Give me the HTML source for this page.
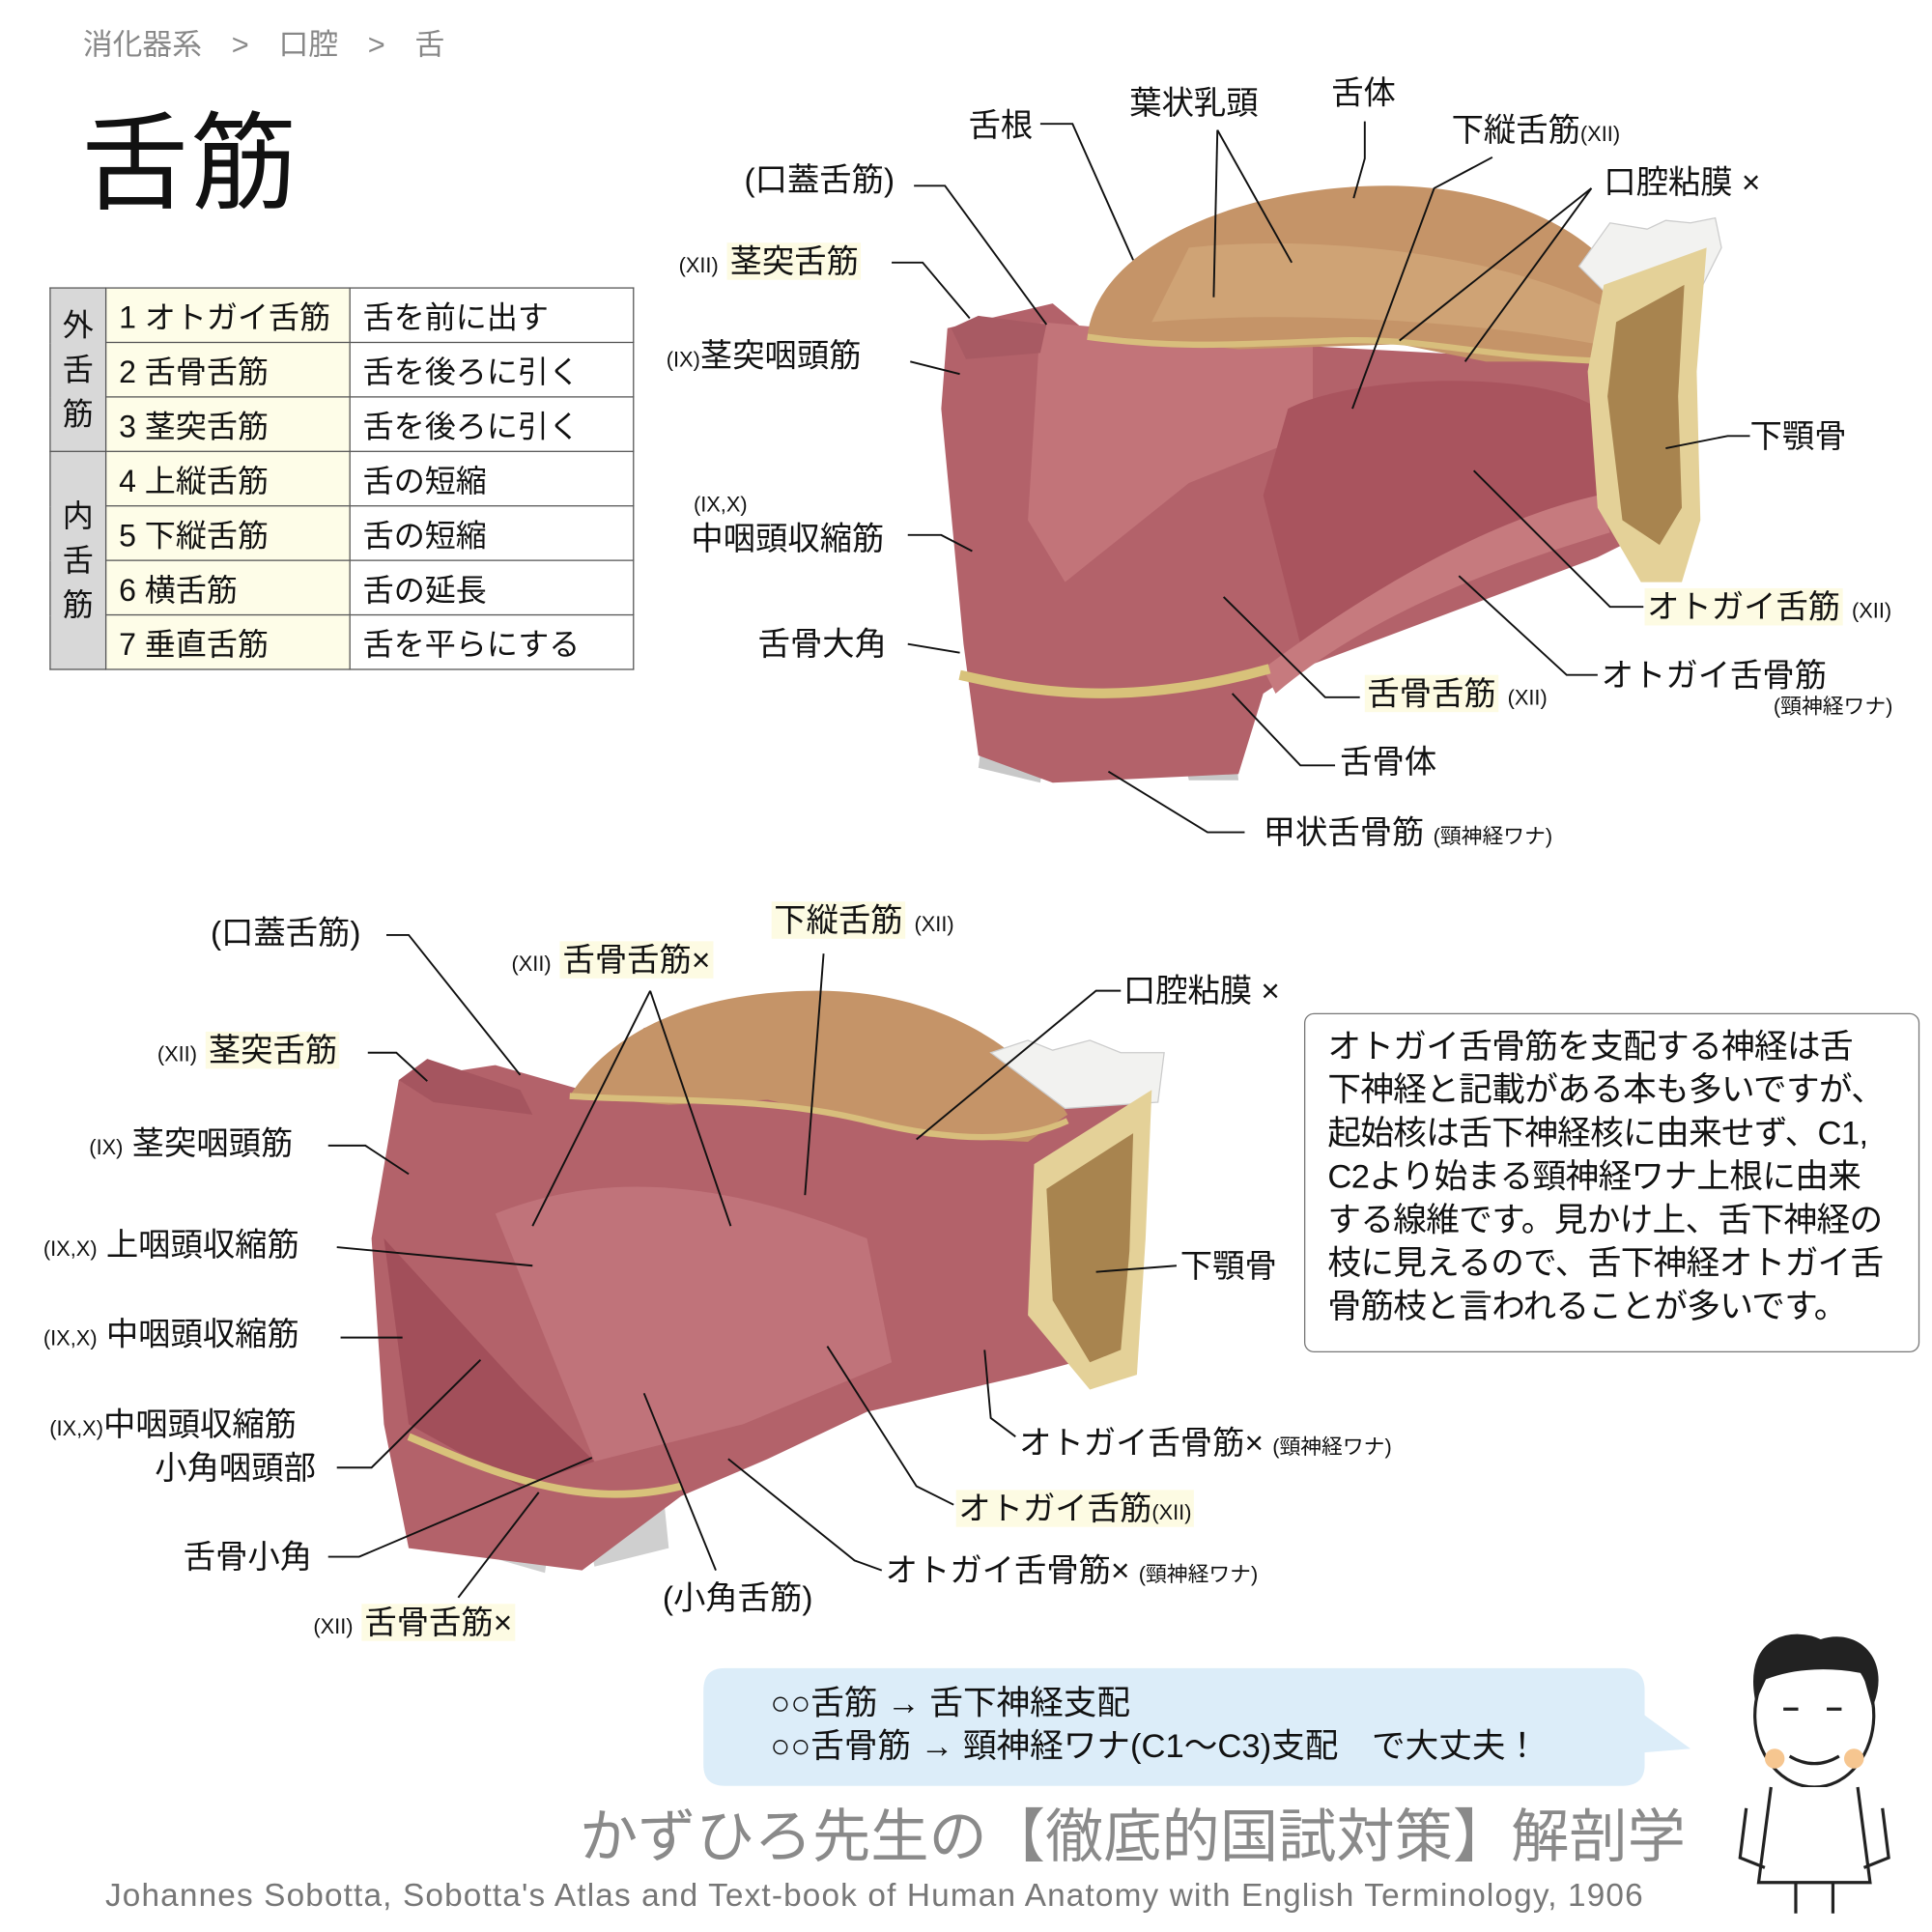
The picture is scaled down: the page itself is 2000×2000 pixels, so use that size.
<!DOCTYPE html>
<html><head><meta charset="utf-8">
<style>
html,body{margin:0;padding:0;background:#fff;width:2000px;height:2000px;overflow:hidden}
#w{position:absolute;left:0;top:0;width:1560px;height:1560px;transform:scale(1.28205);transform-origin:0 0;font-family:"Liberation Sans","Noto Sans CJK JP",sans-serif;color:#111}
.t{position:absolute;white-space:nowrap;font-size:26px;line-height:30px}
.s{font-size:17px}
.hl{background:#fdfbe3;padding:0 2px}
table{position:absolute;left:40px;top:232px;border-collapse:collapse;font-size:25px}
td{border:1.5px solid #555;height:43px;padding:0 0 0 10px;white-space:nowrap}
td.g{background:#d8d8d8;width:44px;padding:0;text-align:center;line-height:36px}
td.y{background:#fefde8;width:186px}
td.w{width:218px}
</style></head><body><div id="w">
<div class="t" style="left:67px;top:22px;font-size:24px;color:#888">消化器系　&gt;　口腔　&gt;　舌</div>
<div class="t" style="left:66px;top:88px;font-size:86px;line-height:90px;letter-spacing:2px">舌筋</div>
<table>
<tr><td class="g" rowspan="3">外<br>舌<br>筋</td><td class="y">1 オトガイ舌筋</td><td class="w">舌を前に出す</td></tr>
<tr><td class="y">2 舌骨舌筋</td><td class="w">舌を後ろに引く</td></tr>
<tr><td class="y">3 茎突舌筋</td><td class="w">舌を後ろに引く</td></tr>
<tr><td class="g" rowspan="4">内<br>舌<br>筋</td><td class="y">4 上縦舌筋</td><td class="w">舌の短縮</td></tr>
<tr><td class="y">5 下縦舌筋</td><td class="w">舌の短縮</td></tr>
<tr><td class="y">6 横舌筋</td><td class="w">舌の延長</td></tr>
<tr><td class="y">7 垂直舌筋</td><td class="w">舌を平らにする</td></tr>
</table>

<svg width="1560" height="1560" style="position:absolute;left:0;top:0">
<g>
<path d="M800,540 L790,620 L840,632 L845,600 Z M950,590 L960,630 L1000,630 L995,580 Z" fill="#c8c8c8"/>
<path d="M765,265 L850,245 L880,270 L1290,292 L1330,300 L1350,420 L1290,450 L1050,540 L1020,560 L1000,625 L850,632 L790,610 L778,520 L760,330 Z" fill="#b3626a"/>
<path d="M840,260 L1060,280 L1060,350 L960,390 L860,470 L830,420 Z" fill="#c27479"/>
<path d="M1040,330 C1100,300 1250,300 1290,330 L1300,420 L1200,460 L1050,520 L1020,400 Z" fill="#a9545e"/>
<path d="M1020,540 C1100,480 1200,420 1290,400 L1300,430 C1200,460 1100,500 1030,560 Z" fill="#c67a7e"/>
<path d="M768,265 L790,255 L845,262 L840,285 L780,290 Z" fill="#a85a63"/>
<path d="M878,272 C885,200 1000,150 1120,150 C1210,150 1290,185 1312,235 L1310,292 L1200,292 L1130,278 L1000,282 L900,272 Z" fill="#c59468"/>
<path d="M960,200 C1050,190 1200,200 1300,250 L1300,280 C1200,260 1050,250 930,260 Z" fill="#d6ad7e" opacity=".6"/>
<path d="M878,272 C950,282 1000,278 1080,275 C1150,272 1200,290 1310,292" fill="none" stroke="#d8be7c" stroke-width="5"/>
<path d="M1275,215 L1300,180 L1330,185 L1345,178 L1365,180 L1385,176 L1390,200 L1375,230 L1300,240 Z" fill="#f2f2f0" stroke="#ccc"/>
<path d="M1295,230 L1378,200 L1370,300 L1373,420 L1358,470 L1325,470 L1290,410 L1282,300 Z" fill="#e4d198"/>
<path d="M1305,260 L1360,230 L1355,320 L1358,410 L1340,440 L1310,420 L1298,320 Z" fill="#a8844f"/>
<path d="M775,545 C820,555 900,575 1025,540" fill="none" stroke="#d8c27a" stroke-width="8"/>
</g>
<g>
<path d="M360,1190 L370,1250 L440,1270 L450,1200 Z M470,1210 L480,1265 L540,1250 L535,1200 Z" fill="#cfcfcf"/>
<path d="M322,872 L400,860 L470,880 L520,830 L640,802 L720,810 L800,850 L930,862 L920,1000 L905,1090 L830,1110 L700,1140 L620,1178 L550,1208 L470,1268 L330,1250 L310,1150 L300,1000 Z" fill="#b3626a"/>
<path d="M322,872 L345,855 L420,880 L430,900 L350,890 Z" fill="#a5555f"/>
<path d="M400,980 C500,940 600,960 700,1000 L720,1100 L600,1150 L480,1180 Z" fill="#c0737a"/>
<path d="M310,1000 L420,1120 L480,1180 L420,1200 L330,1150 Z" fill="#a24f5a"/>
<path d="M460,885 C500,822 580,800 660,800 C760,800 830,848 862,900 L830,922 L750,918 L620,888 L540,892 Z" fill="#c59468"/>
<path d="M460,885 C540,890 620,885 700,905 C780,925 830,920 862,905" fill="none" stroke="#d8be7c" stroke-width="5"/>
<path d="M800,850 L830,840 L850,848 L880,840 L905,850 L940,850 L935,890 L860,895 Z" fill="#f2f2f0" stroke="#ccc"/>
<path d="M835,940 L930,880 L925,1000 L918,1110 L880,1122 L830,1062 Z" fill="#e4d198"/>
<path d="M845,960 L915,915 L912,1010 L905,1090 L880,1100 L850,1050 Z" fill="#a8844f"/>
<path d="M330,1160 C400,1190 470,1220 550,1200" fill="none" stroke="#d8c27a" stroke-width="6"/>
</g>
<g fill="none" stroke="#111" stroke-width="1.5">
<polyline points="840,100 866,100 915,210"/>
<polyline points="983,105 980,240"/><polyline points="983,105 1043,212"/>
<polyline points="1102,98 1102,128 1093,160"/>
<polyline points="1205,127 1158,152 1092,330"/>
<polyline points="1285,152 1130,275"/><polyline points="1285,152 1183,292"/>
<polyline points="738,150 763,150 845,262"/>
<polyline points="720,212 745,212 783,257"/>
<polyline points="735,292 775,302"/>
<polyline points="733,432 760,432 785,445"/>
<polyline points="733,520 775,527"/>
<polyline points="1413,352 1395,352 1345,362"/>
<polyline points="1327,490 1300,490 1190,380"/>
<polyline points="1290,545 1265,545 1178,465"/>
<polyline points="1098,563 1070,563 988,482"/>
<polyline points="1078,618 1050,618 995,560"/>
<polyline points="1005,672 975,672 895,623"/>
<polyline points="312,755 330,755 420,868"/>
<polyline points="525,800 430,990"/><polyline points="525,800 590,990"/>
<polyline points="665,770 650,965"/>
<polyline points="905,800 885,800 740,920"/>
<polyline points="297,850 320,850 345,873"/>
<polyline points="265,925 295,925 330,948"/>
<polyline points="272,1007 430,1022"/>
<polyline points="275,1080 325,1080"/>
<polyline points="272,1185 300,1185 388,1098"/>
<polyline points="265,1257 290,1257 478,1177"/>
<polyline points="370,1290 435,1205"/>
<polyline points="578,1268 520,1125"/>
<polyline points="712,1268 690,1260 588,1178"/>
<polyline points="770,1215 740,1200 668,1087"/>
<polyline points="820,1160 800,1145 795,1090"/>
<polyline points="950,1022 885,1027"/>
</g>
<path d="M585,1347 L1310,1347 Q1328,1347 1328,1365 L1328,1385 L1365,1412 L1328,1415 L1328,1425 Q1328,1442 1310,1442 L585,1442 Q568,1442 568,1425 L568,1365 Q568,1347 585,1347 Z" fill="#dcedf9"/>
<g stroke="#222" stroke-width="2.5" fill="none">
<ellipse cx="1465" cy="1385" rx="48" ry="58" fill="#fff"/>
<path d="M1418,1370 C1410,1320 1450,1315 1470,1325 C1500,1315 1525,1340 1512,1375 L1505,1350 C1480,1345 1450,1345 1425,1355 Z" fill="#222"/>
<path d="M1440,1380 l12,0 M1475,1380 l12,0"/>
<path d="M1445,1418 q20,12 40,0"/>
<path d="M1430,1443 L1420,1520 L1510,1520 L1500,1443" fill="#fff"/>
<path d="M1410,1460 l-5,40 l20,8 M1520,1460 l5,40 l-20,8"/>
<path d="M1450,1520 l0,25 M1480,1520 l0,25"/>
</g>
<circle cx="1433" cy="1420" r="8" fill="#f6c690"/><circle cx="1497" cy="1420" r="8" fill="#f6c690"/>
</svg>

<div class="t" style="left:782px;top:86px">舌根</div>
<div class="t" style="left:912px;top:68px">葉状乳頭</div>
<div class="t" style="left:1075px;top:60px">舌体</div>
<div class="t" style="left:1172px;top:90px">下縦舌筋<span class="s">(XII)</span></div>
<div class="t" style="left:1295px;top:132px">口腔粘膜 ×</div>
<div class="t" style="left:601px;top:130px">(口蓋舌筋)</div>
<div class="t" style="left:548px;top:196px"><span class="s">(XII)</span> <span class="hl">茎突舌筋</span></div>
<div class="t" style="left:538px;top:272px"><span class="s">(IX)</span>茎突咽頭筋</div>
<div class="t s" style="left:560px;top:398px;line-height:20px">(IX,X)</div>
<div class="t" style="left:558px;top:420px">中咽頭収縮筋</div>
<div class="t" style="left:612px;top:505px">舌骨大角</div>
<div class="t" style="left:1413px;top:337px">下顎骨</div>
<div class="t" style="left:1328px;top:475px"><span class="hl">オトガイ舌筋</span> <span class="s">(XII)</span></div>
<div class="t" style="left:1293px;top:530px">オトガイ舌骨筋</div>
<div class="t s" style="left:1432px;top:560px;line-height:22px">(頸神経ワナ)</div>
<div class="t" style="left:1102px;top:545px"><span class="hl">舌骨舌筋</span> <span class="s">(XII)</span></div>
<div class="t" style="left:1082px;top:600px">舌骨体</div>
<div class="t" style="left:1020px;top:657px">甲状舌骨筋 <span class="s">(頸神経ワナ)</span></div>
<div class="t" style="left:170px;top:738px">(口蓋舌筋)</div>
<div class="t" style="left:413px;top:760px"><span class="s">(XII)</span> <span class="hl">舌骨舌筋×</span></div>
<div class="t" style="left:623px;top:728px"><span class="hl">下縦舌筋</span> <span class="s">(XII)</span></div>
<div class="t" style="left:907px;top:785px">口腔粘膜 ×</div>
<div class="t" style="left:127px;top:833px"><span class="s">(XII)</span> <span class="hl">茎突舌筋</span></div>
<div class="t" style="left:72px;top:908px"><span class="s">(IX)</span> 茎突咽頭筋</div>
<div class="t" style="left:35px;top:990px"><span class="s">(IX,X)</span> 上咽頭収縮筋</div>
<div class="t" style="left:35px;top:1062px"><span class="s">(IX,X)</span> 中咽頭収縮筋</div>
<div class="t" style="left:40px;top:1135px"><span class="s">(IX,X)</span>中咽頭収縮筋</div>
<div class="t" style="left:125px;top:1170px">小角咽頭部</div>
<div class="t" style="left:148px;top:1242px">舌骨小角</div>
<div class="t" style="left:253px;top:1295px"><span class="s">(XII)</span> <span class="hl">舌骨舌筋×</span></div>
<div class="t" style="left:535px;top:1275px">(小角舌筋)</div>
<div class="t" style="left:715px;top:1253px">オトガイ舌骨筋× <span class="s">(頸神経ワナ)</span></div>
<div class="t" style="left:772px;top:1203px"><span class="hl">オトガイ舌筋<span class="s">(XII)</span></span></div>
<div class="t" style="left:823px;top:1150px">オトガイ舌骨筋× <span class="s">(頸神経ワナ)</span></div>
<div class="t" style="left:953px;top:1007px">下顎骨</div>
<div style="position:absolute;left:1053px;top:818px;width:497px;height:274px;border:1.5px solid #777;border-radius:8px;box-sizing:border-box"></div>
<div class="t" style="left:1072px;top:828px;font-size:27px;line-height:35px;letter-spacing:-0.5px">オトガイ舌骨筋を支配する神経は舌<br>下神経と記載がある本も多いですが、<br>起始核は舌下神経核に由来せず、C1,<br>C2より始まる頸神経ワナ上根に由来<br>する線維です。見かけ上、舌下神経の<br>枝に見えるので、舌下神経オトガイ舌<br>骨筋枝と言われることが多いです。</div>
<div class="t" style="left:622px;top:1358px;font-size:27px;line-height:35px">○○舌筋 → 舌下神経支配<br>○○舌骨筋 → 頸神経ワナ(C1～C3)支配　で大丈夫！</div>
<div class="t" style="left:468px;top:1455px;font-size:47px;line-height:56px;color:#8a8a8a">かずひろ先生の【徹底的国試対策】解剖学</div>
<div class="t" style="left:85px;top:1515px;font-size:26px;letter-spacing:0.9px;color:#777">Johannes Sobotta, Sobotta's Atlas and Text-book of Human Anatomy with English Terminology, 1906</div>
</div></body></html>
